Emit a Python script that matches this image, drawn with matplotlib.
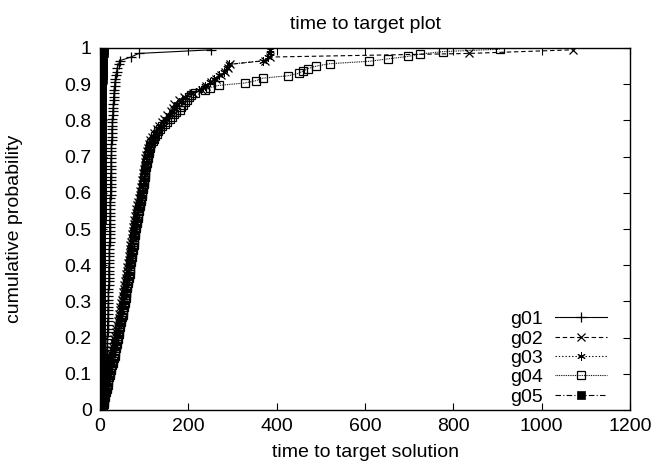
import numpy as np
import matplotlib
matplotlib.use("Agg")
import matplotlib.pyplot as plt

plt.rcParams['font.family'] = ['Liberation Sans', 'DejaVu Sans']

# times to target (sorted)
g01 = [5, 7, 8, 9, 10, 11, 11, 12, 12, 13,
       13, 14, 14, 14, 15, 15, 15, 16, 16, 16,
       16, 17, 17, 17, 17, 18, 18, 18, 18, 19,
       19, 19, 19, 19, 20, 20, 20, 20, 20, 20,
       21, 21, 21, 21, 21, 21, 22, 22, 22, 22,
       22, 22, 22, 23, 23, 23, 23, 23, 23, 24,
       24, 24, 24, 24, 24, 25, 25, 25, 25, 25,
       26, 26, 26, 26, 27, 27, 27, 27, 28, 28,
       28, 29, 29, 30, 30, 31, 31, 32, 32, 33,
       34, 35, 36, 38, 39, 42, 45, 70, 88, 252]

g02 = [4, 5, 6, 8, 9, 10, 11, 13, 14, 16,
       17, 19, 20, 22, 24, 25, 27, 29, 31, 32,
       34, 36, 37, 39, 40, 42, 43, 45, 46, 48,
       49, 51, 52, 54, 55, 57, 58, 60, 61, 62,
       63, 65, 66, 67, 68, 69, 70, 72, 73, 74,
       75, 76, 78, 79, 81, 82, 84, 86, 88, 90,
       91, 93, 94, 96, 97, 98, 99, 101, 102, 103,
       104, 106, 108, 111, 114, 118, 122, 128, 134, 140,
       145, 152, 160, 165, 168, 178, 190, 210, 232, 240,
       251, 262, 275, 282, 290, 295, 373, 384, 836, 1070]

g03 = [5, 6, 7, 9, 10, 12, 13, 15, 16, 18,
       19, 21, 23, 24, 26, 28, 30, 32, 34, 35,
       37, 38, 40, 41, 43, 44, 46, 47, 49, 50,
       52, 53, 55, 56, 58, 59, 60, 62, 63, 64,
       65, 67, 68, 69, 70, 71, 73, 74, 75, 76,
       77, 79, 80, 82, 83, 85, 87, 89, 91, 93,
       94, 95, 97, 98, 99, 100, 102, 103, 104, 105,
       107, 109, 112, 115, 119, 123, 128, 133, 139, 146,
       150, 156, 163, 168, 175, 185, 192, 205, 225, 238,
       248, 258, 270, 280, 287, 292, 370, 380, 384, 386]

g04 = [5, 6, 8, 9, 10, 11, 12, 13, 15, 16,
       17, 18, 19, 21, 22, 23, 25, 26, 27, 29,
       30, 31, 33, 34, 35, 36, 37, 38, 39, 40,
       41, 42, 43, 44, 45, 46, 47, 48, 50, 51,
       52, 53, 54, 55, 56, 57, 58, 59, 60, 60,
       61, 62, 63, 64, 65, 66, 67, 67, 68, 69,
       69, 70, 71, 72, 72, 73, 74, 75, 76, 77,
       77, 78, 79, 80, 80, 81, 82, 83, 84, 85,
       86, 87, 88, 89, 90, 91, 92, 93, 94, 95,
       96, 97, 98, 99, 100, 100, 101, 102, 103, 103,
       104, 105, 106, 107, 108, 109, 110, 111, 113, 114,
       116, 119, 122, 125, 128, 132, 136, 141, 147, 152,
       158, 163, 167, 172, 180, 184, 188, 192, 198, 201,
       207, 215, 237, 248, 269, 328, 354, 368, 426, 450,
       460, 471, 490, 520, 610, 652, 697, 725, 776, 905]

g05 = [0.2, 0.3, 0.4, 0.5, 0.6, 0.7, 0.8, 0.9, 1.0, 1.1,
       1.2, 1.2, 1.3, 1.4, 1.4, 1.5, 1.6, 1.6, 1.7, 1.7,
       1.8, 1.8, 1.9, 1.9, 2.0, 2.0, 2.1, 2.1, 2.2, 2.2,
       2.3, 2.3, 2.4, 2.4, 2.5, 2.5, 2.6, 2.6, 2.7, 2.7,
       2.8, 2.8, 2.9, 2.9, 3.0, 3.0, 3.1, 3.1, 3.2, 3.2,
       3.3, 3.3, 3.4, 3.4, 3.5, 3.5, 3.6, 3.6, 3.7, 3.7,
       3.8, 3.8, 3.9, 3.9, 4.0, 4.0, 4.1, 4.1, 4.2, 4.2,
       4.3, 4.3, 4.4, 4.4, 4.5, 4.5, 4.6, 4.6, 4.7, 4.7,
       4.8, 4.8, 4.9, 5.0, 5.0, 5.1, 5.2, 5.3, 5.4, 5.5,
       5.6, 5.8, 6.0, 6.2, 6.4, 6.7, 7.0, 7.4, 8.0, 9.0]

names = ['g01', 'g02', 'g03', 'g04', 'g05']


def ecdf(times):
    t = np.sort(np.asarray(times, dtype=float))
    n = len(t)
    p = (np.arange(1, n + 1) - 0.5) / n
    return t, p


fig = plt.figure(figsize=(6.53, 4.66), dpi=100)
ax = fig.add_axes([100 / 653, 1 - 410 / 466, 530 / 653, 362 / 466])

styles = [
    dict(ls='-', marker='+', ms=7, mew=0.9, color='black'),
    dict(ls=(0, (4, 2.5)), marker='x', ms=6, mew=0.9, color='black'),
    dict(ls=(0, (1.2, 1.8)), marker=(6, 2, 0), ms=6, mew=0.7, color='black'),
    dict(ls=(0, (0.8, 0.8)), marker='s', ms=5.5, mew=0.9, color='black',
         mfc='none'),
    dict(ls=(0, (5, 2, 1, 2)), marker='s', ms=6, mew=0.5, color='black'),
]

for name, data, st in zip(names, [g01, g02, g03, g04, g05], styles):
    t, p = ecdf(data)
    ax.plot(t, p, lw=0.8, label=name, **st)

ax.set_xlim(0, 1200)
ax.set_ylim(0, 1)
ax.set_xticks(np.arange(0, 1201, 200))
ax.set_yticks(np.arange(0, 1.01, 0.1))
ax.set_yticklabels(['0', '0.1', '0.2', '0.3', '0.4', '0.5', '0.6', '0.7',
                    '0.8', '0.9', '1'])
ax.tick_params(direction='in', top=True, right=True, length=5,
               labelsize=14, pad=6)
for s in ax.spines.values():
    s.set_linewidth(1.0)

ax.set_title('time to target plot', fontsize=14, pad=14)
ax.set_xlabel('time to target solution', fontsize=14, labelpad=6)
ax.set_ylabel('cumulative probability', fontsize=14)
ax.yaxis.set_label_coords(-0.145, 0.5)

ax.legend(loc='lower right', bbox_to_anchor=(1 - 23 / 530, 0.012),
          frameon=False, markerfirst=False, borderpad=0,
          fontsize=14, handlelength=2.7, labelspacing=0.09,
          handletextpad=0.6, borderaxespad=0)

fig.savefig('out.png', dpi=100)
